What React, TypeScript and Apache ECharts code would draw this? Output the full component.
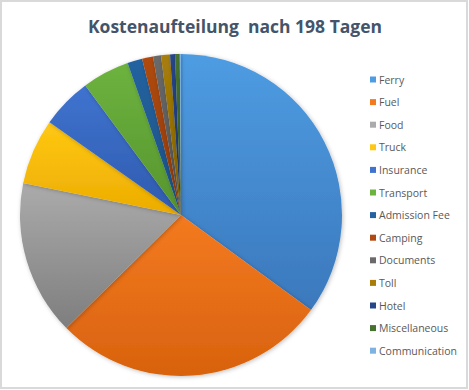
import React, { useEffect, useRef } from "react";
import * as echarts from "echarts";

const titleText = "Kostenaufteilung  nach 198 Tagen";
const categories = [
  "Ferry", "Fuel", "Food", "Truck", "Insurance", "Transport", "Admission Fee",
  "Camping", "Documents", "Toll", "Hotel", "Miscellaneous", "Communication",
];
const values = [35.1, 27.6, 15.6, 6.6, 5.1, 4.75, 1.5, 1.1, 0.8, 0.9, 0.5, 0.47, 0.12];
const topColors = [
  "#4E9CE2", "#F47A20", "#ABABAB", "#FFC814", "#3F73CF", "#6DB33F", "#2463A0",
  "#B04A10", "#6A6A6A", "#A87E08", "#26468A", "#467230", "#7DB2E2",
];
const bottomColors = [
  "#3B78BC", "#D8620E", "#7E7E7E", "#ECAC00", "#2F5BAE", "#56942E", "#1C4F82",
  "#8C3A0A", "#505050", "#7E5E00", "#1B3466", "#34541F", "#5A93CC",
];

export default function App() {
  const ref = useRef<HTMLDivElement>(null);
  useEffect(() => {
    document.body.style.margin = "0";
    const chart = echarts.init(ref.current!, null, { renderer: "svg" });
    const data = categories.map((name, i) => ({
      name,
      value: values[i],
      itemStyle: {
        color: new echarts.graphic.LinearGradient(0, 0, 0, 1, [
          { offset: 0, color: topColors[i] },
          { offset: 1, color: bottomColors[i] },
        ]),
      },
    }));
    chart.setOption({
      animation: false,
      backgroundColor: "#ffffff",
      title: {
        text: titleText,
        left: 230,
        top: 12,
        textAlign: "center",
        textStyle: {
          fontFamily: "Open Sans",
          fontWeight: "bold",
          fontSize: 17.5,
          color: "#44546A",
        },
      },
      legend: {
        orient: "vertical",
        left: 365,
        top: 69,
        itemWidth: 6,
        itemHeight: 6,
        itemGap: 11.6,
        icon: "rect",
        textStyle: { fontFamily: "Open Sans", fontSize: 10.5, color: "#595959", padding: [0, 0, 0, -2] },
        data: categories.map((name, i) => ({ name, itemStyle: { color: topColors[i] } })),
      },
      graphic: [
        {
          type: "rect",
          shape: { x: 1, y: 1, width: 466, height: 387 },
          style: { fill: "none", stroke: "#D9D9D9", lineWidth: 2 },
          silent: true,
        },
      ],
      series: [
        {
          type: "pie",
          center: [181, 215],
          radius: [0, 161],
          startAngle: 90,
          clockwise: true,
          label: { show: false },
          labelLine: { show: false },
          itemStyle: {
            shadowBlur: 4,
            shadowColor: "rgba(0,0,0,0.25)",
            shadowOffsetX: 1,
            shadowOffsetY: 1,
          },
          emphasis: { disabled: true },
          data,
        },
      ],
    });
    return () => chart.dispose();
  }, []);
  return <div ref={ref} style={{ position: "absolute", left: 0, top: 0, width: 469, height: 390 }} />;
}
